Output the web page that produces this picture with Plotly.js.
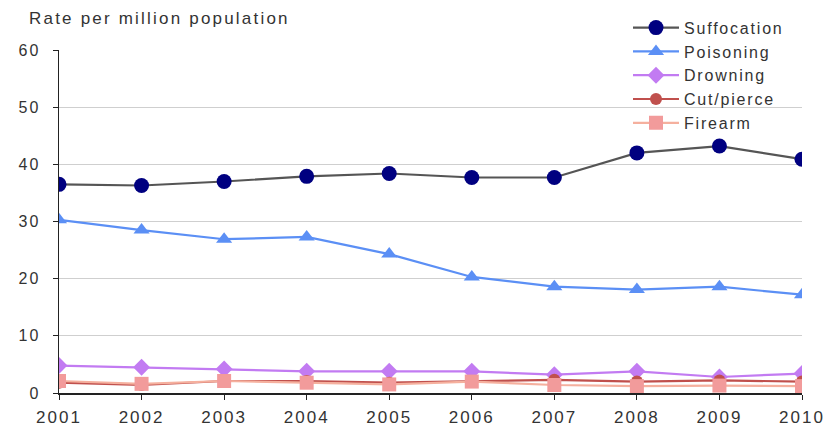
<!DOCTYPE html>
<html>
<head>
<meta charset="utf-8">
<script src="https://cdn.plot.ly/plotly-3.0.1.min.js"></script>
<style>
html,body{margin:0;padding:0;background:#fff;}
#chart{width:826px;height:428px;}
.xtick text{letter-spacing:2px;}
.ytick text{letter-spacing:2px;}
.legendtext{letter-spacing:1.8px;}
.annotation-text{letter-spacing:2.2px;}
</style>
</head>
<body>
<div id="chart"></div>
<script>
var years = [2001, 2002, 2003, 2004, 2005, 2006, 2007, 2008, 2009, 2010];
var suffocation = [36.5, 36.3, 37.0, 37.9, 38.4, 37.7, 37.7, 42.0, 43.2, 40.9];
var poisoning = [30.3, 28.5, 26.9, 27.3, 24.3, 20.3, 18.6, 18.1, 18.6, 17.2];
var drowning = [4.8, 4.5, 4.2, 3.8, 3.8, 3.8, 3.2, 3.8, 2.8, 3.4];
var cutPierce = [1.8, 1.4, 2.1, 2.1, 1.8, 2.0, 2.3, 2.0, 2.2, 2.0];
var firearm = [2.1, 1.6, 2.1, 1.8, 1.5, 2.0, 1.4, 1.2, 1.3, 1.2];
var yTicks = [0, 10, 20, 30, 40, 50, 60];
var yTitle = "Rate per million population";

function tr(name, y, lineColor, markerColor, symbol, size) {
  return {
    x: years, y: y, name: name, type: 'scatter', mode: 'lines+markers',
    line: {color: lineColor, width: 2.2},
    marker: {color: markerColor, symbol: symbol, size: size}
  };
}
var data = [
  tr('Suffocation', suffocation, '#555555', '#000080', 'circle', 15),
  tr('Poisoning', poisoning, '#5B8FF5', '#5B8FF5', 'triangle-up', 14),
  tr('Drowning', drowning, '#C27BF2', '#C27BF2', 'diamond', 13),
  tr('Cut/pierce', cutPierce, '#C0504D', '#C0504D', 'circle', 12),
  tr('Firearm', firearm, '#F5B09E', '#F29B9B', 'square', 14)
];
var layout = {
  width: 826, height: 428,
  margin: {l: 59, r: 24, t: 50, b: 35, autoexpand: false},
  paper_bgcolor: '#fff', plot_bgcolor: '#fff',
  font: {family: 'Liberation Sans, Arial, sans-serif', size: 15, color: '#333'},
  showlegend: true,
  legend: {x: 628 / 826, y: 0.975, xref: 'container', yref: 'container',
           xanchor: 'left', yanchor: 'top', bgcolor: 'rgba(255,255,255,0)',
           font: {size: 16, color: '#333'}, itemwidth: 46, tracegroupgap: 0},
  xaxis: {
    range: [2001, 2010], tickvals: years, ticktext: years.map(String),
    showgrid: false, zeroline: false, showline: true, linecolor: '#222', linewidth: 1.5,
    ticks: 'outside', ticklen: 5, tickcolor: '#222', tickfont: {size: 17, color: '#333'},
    ticklabelstandoff: 3
  },
  yaxis: {
    range: [0, 60], tickvals: yTicks, showgrid: true, gridcolor: '#cfcfcf', gridwidth: 1,
    zeroline: false, showline: true, linecolor: '#222', linewidth: 1.5,
    ticks: 'outside', ticklen: 5, tickcolor: '#222', tickfont: {size: 16, color: '#333'},
    ticklabelstandoff: 9
  },
  annotations: [{
    text: yTitle, xref: 'paper', yref: 'paper', x: -32 / 743, y: 1.0, yshift: 32,
    xanchor: 'left', yanchor: 'middle', showarrow: false,
    font: {size: 17, color: '#333'}
  }]
};
Plotly.newPlot('chart', data, layout, {displayModeBar: false, staticPlot: true});
</script>
</body>
</html>
